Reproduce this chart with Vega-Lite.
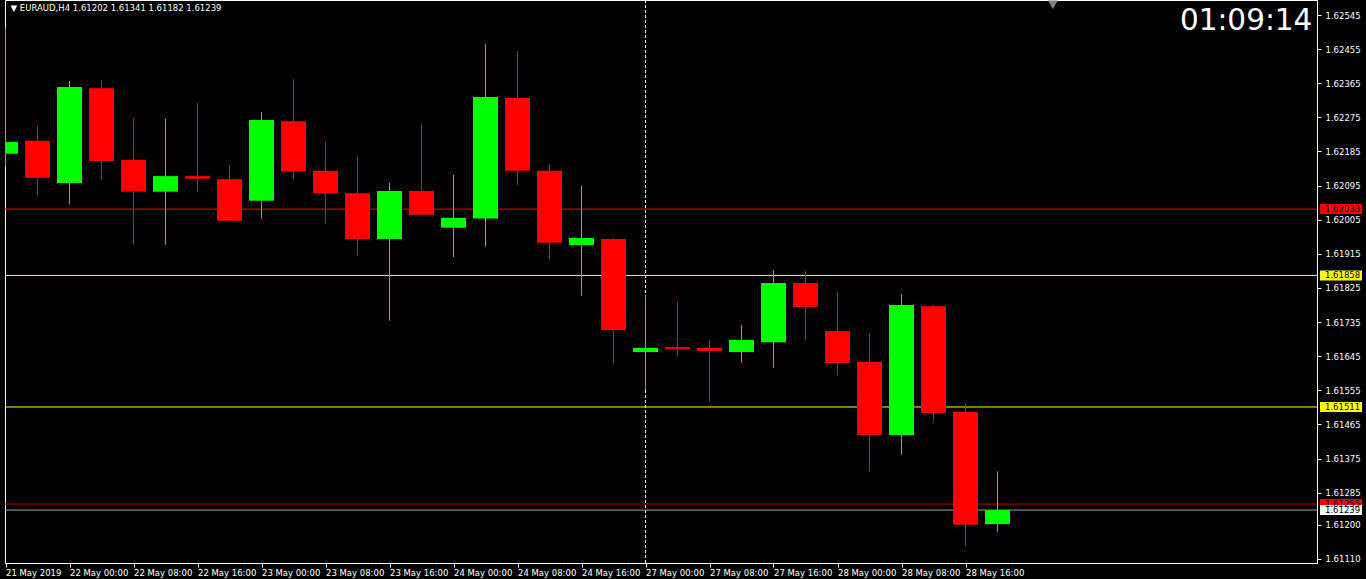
{
  "$schema": "https://vega.github.io/schema/vega-lite/v6.json",
  "width": 1312,
  "height": 563,
  "autosize": "none",
  "padding": {"left": 5, "top": 0, "right": 49, "bottom": 16},
  "background": "#000000",
  "view": {"stroke": "#ffffff", "strokeWidth": 1, "fill": "#000000"},
  "config": {
    "font": "DejaVu Sans",
    "scale": {"continuousPadding": 0},
    "axis": {"labelOverlap": false, "labelFlush": false, "labelBound": false, "grid": false, "title": null,
      "labelColor": "#ffffff", "tickColor": "#ffffff", "domainColor": "#ffffff", "labelFont": "DejaVu Sans", "labelFontSize": 8.5, "tickSize": 4},
    "axisY": {"labelPadding": 4, "orient": "right"},
    "axisX": {"labelPadding": 1, "labelAlign": "left"}
  },
  "datasets": {
    "candles": [
      {"i": 0, "o": 1.62179, "h": 1.62511, "l": 1.62145, "c": 1.62210, "dir": "up"},
      {"i": 1, "o": 1.62213, "h": 1.62252, "l": 1.62071, "c": 1.62116, "dir": "down"},
      {"i": 2, "o": 1.62102, "h": 1.62371, "l": 1.62045, "c": 1.62355, "dir": "up"},
      {"i": 3, "o": 1.62352, "h": 1.62374, "l": 1.62111, "c": 1.62160, "dir": "down"},
      {"i": 4, "o": 1.62163, "h": 1.62273, "l": 1.61939, "c": 1.62079, "dir": "down"},
      {"i": 5, "o": 1.62079, "h": 1.62271, "l": 1.61939, "c": 1.62120, "dir": "up"},
      {"i": 6, "o": 1.62120, "h": 1.62313, "l": 1.62079, "c": 1.62113, "dir": "down"},
      {"i": 7, "o": 1.62112, "h": 1.62147, "l": 1.62002, "c": 1.62002, "dir": "down"},
      {"i": 8, "o": 1.62055, "h": 1.62289, "l": 1.62008, "c": 1.62268, "dir": "up"},
      {"i": 9, "o": 1.62265, "h": 1.62376, "l": 1.62113, "c": 1.62132, "dir": "down"},
      {"i": 10, "o": 1.62134, "h": 1.62210, "l": 1.61994, "c": 1.62074, "dir": "down"},
      {"i": 11, "o": 1.62075, "h": 1.62170, "l": 1.61910, "c": 1.61954, "dir": "down"},
      {"i": 12, "o": 1.61954, "h": 1.62102, "l": 1.61739, "c": 1.62081, "dir": "up"},
      {"i": 13, "o": 1.62081, "h": 1.62255, "l": 1.62018, "c": 1.62018, "dir": "down"},
      {"i": 14, "o": 1.61984, "h": 1.62123, "l": 1.61907, "c": 1.62010, "dir": "up"},
      {"i": 15, "o": 1.62008, "h": 1.62469, "l": 1.61934, "c": 1.62329, "dir": "up"},
      {"i": 16, "o": 1.62326, "h": 1.62450, "l": 1.62097, "c": 1.62134, "dir": "down"},
      {"i": 17, "o": 1.62134, "h": 1.62152, "l": 1.61902, "c": 1.61944, "dir": "down"},
      {"i": 18, "o": 1.61938, "h": 1.62094, "l": 1.61805, "c": 1.61957, "dir": "up"},
      {"i": 19, "o": 1.61954, "h": 1.61957, "l": 1.61628, "c": 1.61714, "dir": "down"},
      {"i": 20, "o": 1.61656, "h": 1.61805, "l": 1.61556, "c": 1.61667, "dir": "up"},
      {"i": 21, "o": 1.61669, "h": 1.61788, "l": 1.61644, "c": 1.61664, "dir": "down"},
      {"i": 22, "o": 1.61667, "h": 1.61688, "l": 1.61525, "c": 1.61659, "dir": "down"},
      {"i": 23, "o": 1.61656, "h": 1.61727, "l": 1.61628, "c": 1.61688, "dir": "up"},
      {"i": 24, "o": 1.61682, "h": 1.61872, "l": 1.61615, "c": 1.61838, "dir": "up"},
      {"i": 25, "o": 1.61838, "h": 1.61870, "l": 1.61688, "c": 1.61775, "dir": "down"},
      {"i": 26, "o": 1.61711, "h": 1.61814, "l": 1.61595, "c": 1.61627, "dir": "down"},
      {"i": 27, "o": 1.61630, "h": 1.61704, "l": 1.61340, "c": 1.61437, "dir": "down"},
      {"i": 28, "o": 1.61437, "h": 1.61809, "l": 1.61385, "c": 1.61780, "dir": "up"},
      {"i": 29, "o": 1.61777, "h": 1.61780, "l": 1.61470, "c": 1.61495, "dir": "down"},
      {"i": 30, "o": 1.61498, "h": 1.61519, "l": 1.61145, "c": 1.61200, "dir": "down"},
      {"i": 31, "o": 1.61202, "h": 1.61341, "l": 1.61182, "c": 1.61239, "dir": "up"}
    ],
    "levels": [
      {"price": 1.62033, "kind": "level_red"},
      {"price": 1.61858, "kind": "level_yellow"},
      {"price": 1.61511, "kind": "level_yellow"},
      {"price": 1.61255, "kind": "ask"},
      {"price": 1.61239, "kind": "bid"}
    ],
    "separators": [{"i": 20}],
    "info": [{"label": "▼ EURAUD,H4  1.61202 1.61341 1.61182 1.61239", "clock": "01:09:14"}]
  },
  "layer": [
    {
      "data": {"name": "separators"},
      "mark": {"type": "rule", "color": "#ffffff", "strokeWidth": 1, "strokeDash": [3, 2]},
      "encoding": {
        "x": {"field": "i", "type": "quantitative", "scale": {"domain": [-0.015625, 40.984375], "nice": false, "zero": false, "padding": 0},
          "axis": {
            "values": [0, 2, 4, 6, 8, 10, 12, 14, 16, 18, 20, 22, 24, 26, 28, 30],
            "tickCount": 40,
            "labelExpr": "['21 May 2019','22 May 00:00','22 May 08:00','22 May 16:00','23 May 00:00','23 May 08:00','23 May 16:00','24 May 00:00','24 May 08:00','24 May 16:00','27 May 00:00','27 May 08:00','27 May 16:00','28 May 00:00','28 May 08:00','28 May 16:00'][datum.value/2]",
            "labelAlign": "left", "labelOverlap": false
          }}
      }
    },
    {
      "data": {"name": "levels"},
      "mark": {"type": "rule", "strokeWidth": 1},
      "encoding": {
        "y": {"field": "price", "type": "quantitative", "scale": {"domain": [1.610994, 1.625846], "nice": false, "zero": false, "padding": 0},
          "axis": {
            "orient": "right",
            "values": [1.62545, 1.62455, 1.62365, 1.62275, 1.62185, 1.62095, 1.62005, 1.61915, 1.61825, 1.61735, 1.61645, 1.61555, 1.61465, 1.61375, 1.61285, 1.612, 1.6111],
            "tickCount": 40,
            "format": ".5f", "labelOverlap": false, "labelSeparation": 0
          }},
        "color": {"field": "kind", "type": "nominal", "legend": null,
          "scale": {"domain": ["level_red", "level_yellow", "ask", "bid"], "range": ["#ff0000", "#ffff00", "#c00000", "#a0a0a0"]}}
      }
    },
    {
      "data": {"name": "candles"},
      "mark": {"type": "rule", "strokeWidth": 1, "clip": true},
      "encoding": {
        "x": {"field": "i", "type": "quantitative"},
        "y": {"field": "h", "type": "quantitative"},
        "y2": {"field": "l"},
        "color": {"field": "dir", "type": "nominal", "legend": null,
          "scale": {"domain": ["up", "down"], "range": ["#00ff00", "#ff0000"]}}
      }
    },
    {
      "data": {"name": "candles"},
      "mark": {"type": "bar", "orient": "vertical", "width": 25, "clip": true},
      "encoding": {
        "x": {"field": "i", "type": "quantitative"},
        "y": {"field": "o", "type": "quantitative"},
        "y2": {"field": "c"},
        "color": {"field": "dir", "type": "nominal", "legend": null,
          "scale": {"domain": ["up", "down"], "range": ["#00ff00", "#ff0000"]}}
      }
    },
    {
      "data": {"name": "levels"},
      "mark": {"type": "bar", "orient": "horizontal", "height": 10},
      "encoding": {
        "x": {"datum": 41.078},
        "x2": {"datum": 42.39},
        "y": {"field": "price", "type": "quantitative"},
        "color": {"field": "kind", "type": "nominal", "legend": null,
          "scale": {"domain": ["level_red", "level_yellow", "ask", "bid"], "range": ["#ff0000", "#ffff00", "#ff0000", "#ffffff"]}}
      }
    },
    {
      "data": {"name": "levels"},
      "mark": {"type": "text", "align": "left", "baseline": "middle", "fontSize": 8.5, "font": "DejaVu Sans", "color": "#000000"},
      "encoding": {
        "x": {"datum": 41.234},
        "y": {"field": "price", "type": "quantitative"},
        "text": {"field": "price", "type": "quantitative", "format": ".5f"}
      }
    },
    {
      "data": {"name": "info"},
      "mark": {"type": "text", "align": "left", "baseline": "middle", "fontSize": 8.5, "font": "DejaVu Sans", "color": "#ffffff"},
      "encoding": {
        "x": {"datum": 0.16},
        "y": {"datum": 1.62563},
        "text": {"field": "label"}
      }
    },
    {
      "data": {"name": "info"},
      "mark": {"type": "text", "align": "right", "baseline": "middle", "fontSize": 29.5, "font": "DejaVu Sans", "color": "#ffffff"},
      "encoding": {
        "x": {"datum": 40.84},
        "y": {"datum": 1.62529},
        "text": {"field": "clock"}
      }
    },
    {
      "data": {"name": "info"},
      "mark": {"type": "point", "shape": "triangle-down", "filled": true, "size": 100, "color": "#808080", "opacity": 1},
      "encoding": {
        "x": {"datum": 32.73},
        "y": {"datum": 1.62572}
      }
    }
  ],
  "resolve": {"scale": {"color": "independent"}}
}
